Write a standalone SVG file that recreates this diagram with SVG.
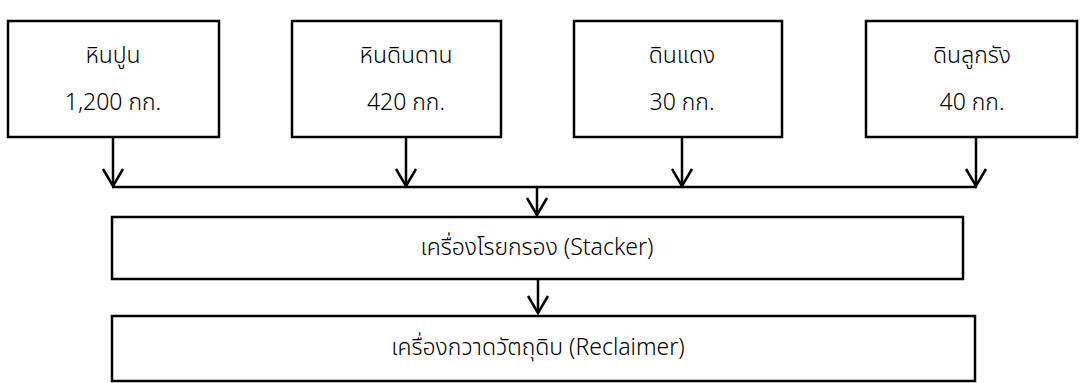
<svg xmlns="http://www.w3.org/2000/svg" width="1081" height="383" viewBox="0 0 1081 383">
<style>
.box{fill:#fff;stroke:#000;stroke-width:2.5}
.t{font-family:"Noto Sans Thai","Noto Sans","DejaVu Sans",sans-serif;font-size:23px;font-weight:300;fill:#000;text-anchor:middle}
.c{fill:none;stroke:#000;stroke-width:2.5}
</style>
<defs>
<marker id="v" markerUnits="userSpaceOnUse" viewBox="-12 -19 24 21" refX="0" refY="0" markerWidth="24" markerHeight="21" orient="auto-start-reverse" overflow="visible">
<path d="M-10,-17 L0,0 L10,-17" fill="none" stroke="#000" stroke-width="2.5" transform="rotate(-90)"/>
</marker>
</defs>
<g id="connectors">
<path class="c" d="M113,137 V186" marker-end="url(#v)"/>
<path class="c" d="M406,137 V186" marker-end="url(#v)"/>
<path class="c" d="M682,137 V186" marker-end="url(#v)"/>
<path class="c" d="M976,137 V186" marker-end="url(#v)"/>
<path class="c" d="M112,187 H977"/>
<path class="c" d="M537,187 V215" marker-end="url(#v)"/>
<path class="c" d="M538,279 V313" marker-end="url(#v)"/>
</g>
<g id="n1">
<rect class="box" x="8" y="21" width="211" height="116"/>
<text class="t" x="113" y="63">หินปูน</text>
<text class="t" x="113" y="110">1,200 กก.</text>
</g>
<g id="n2">
<rect class="box" x="292" y="21" width="209" height="116"/>
<text class="t" x="406" y="63">หินดินดาน</text>
<text class="t" x="406" y="110">420 กก.</text>
</g>
<g id="n3">
<rect class="box" x="574" y="21" width="208" height="116"/>
<text class="t" x="682" y="63">ดินแดง</text>
<text class="t" x="682" y="110">30 กก.</text>
</g>
<g id="n4">
<rect class="box" x="866" y="21" width="211" height="116"/>
<text class="t" x="972" y="63">ดินลูกรัง</text>
<text class="t" x="972" y="110">40 กก.</text>
</g>
<g id="stacker">
<rect class="box" x="112" y="217" width="851" height="62"/>
<text class="t" x="537" y="255">เครื่องโรยกรอง (Stacker)</text>
</g>
<g id="reclaimer">
<rect class="box" x="112" y="316" width="863" height="65"/>
<text class="t" x="538" y="355">เครื่องกวาดวัตถุดิบ (Reclaimer)</text>
</g>
</svg>
